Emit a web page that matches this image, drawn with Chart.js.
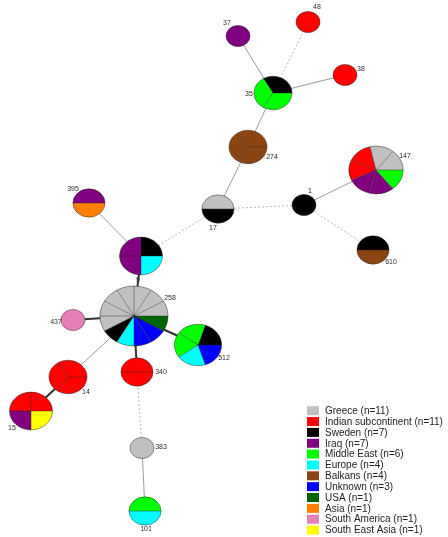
<!DOCTYPE html>
<html>
<head>
<meta charset="utf-8">
<script src="https://cdn.jsdelivr.net/npm/chart.js@4/dist/chart.umd.min.js"></script>
<style>
  html, body { margin: 0; padding: 0; background: #fff; }
  canvas { display: block; }
</style>
</head>
<body>
<canvas id="mst" width="448" height="537"></canvas>
<script>
// Origin groups (legend order = slice order inside each node)
const categories = ['Greece', 'Indian subcontinent', 'Sweden', 'Iraq', 'Middle East', 'Europe',
  'Balkans', 'Unknown', 'USA', 'Asia', 'South America', 'South East Asia'];

// Sequence types (nodes) and their layout coordinates
const nodeIds = ['48', '37', '38', '35', '274', '17', '1', '147', '610', '395',
  '9', '258', '437', '512', '340', '14', '15', '383', '101'];
const nodeX = [308, 238, 345, 273, 248, 218, 304, 376, 373, 89, 141, 134, 73, 198, 137, 68, 31, 142, 145];
const nodeY = [22, 36, 75, 93, 147, 209, 205, 170, 250, 203, 256, 316, 320, 345, 372, 377, 411, 448, 511];

// Isolates per node, one column per origin group
const nodeCounts = [
  [0, 1, 0, 0, 0, 0, 0, 0, 0, 0, 0, 0], // 48
  [0, 0, 0, 1, 0, 0, 0, 0, 0, 0, 0, 0], // 37
  [0, 1, 0, 0, 0, 0, 0, 0, 0, 0, 0, 0], // 38
  [0, 0, 1, 0, 2, 0, 0, 0, 0, 0, 0, 0], // 35
  [0, 0, 0, 0, 0, 0, 3, 0, 0, 0, 0, 0], // 274
  [1, 0, 1, 0, 0, 0, 0, 0, 0, 0, 0, 0], // 17
  [0, 0, 1, 0, 0, 0, 0, 0, 0, 0, 0, 0], // 1
  [2, 2, 0, 2, 1, 0, 0, 0, 0, 0, 0, 0], // 147
  [0, 0, 1, 0, 0, 0, 1, 0, 0, 0, 0, 0], // 610
  [0, 0, 0, 1, 0, 0, 0, 0, 0, 1, 0, 0], // 395
  [0, 0, 1, 2, 0, 1, 0, 0, 0, 0, 0, 0], // 9
  [7, 0, 1, 0, 0, 1, 0, 2, 1, 0, 0, 0], // 258
  [0, 0, 0, 0, 0, 0, 0, 0, 0, 0, 1, 0], // 437
  [0, 0, 1, 0, 2, 1, 0, 1, 0, 0, 0, 0], // 512
  [0, 2, 0, 0, 0, 0, 0, 0, 0, 0, 0, 0], // 340
  [0, 3, 0, 0, 0, 0, 0, 0, 0, 0, 0, 0], // 14
  [0, 2, 0, 1, 0, 0, 0, 0, 0, 0, 0, 1], // 15
  [1, 0, 0, 0, 0, 0, 0, 0, 0, 0, 0, 0], // 383
  [0, 0, 0, 0, 1, 1, 0, 0, 0, 0, 0, 0]  // 101
];

// Minimum spanning tree links: [from, to, distance class]
const edgeFrom = ['35', '35', '35', '35', '274', '17', '1', '1', '17', '9', '9', '258', '258', '258', '258', '14', '340', '383'];
const edgeTo   = ['37', '48', '38', '274', '17', '1', '147', '610', '9', '395', '258', '437', '14', '512', '340', '15', '383', '101'];
const edgeDist = [2, 3, 2, 2, 2, 3, 2, 3, 3, 2, 1, 1, 2, 1, 1, 1, 3, 2];

// ---- presentation ----
const groupColours = ['#c0c0c0', '#ff0000', '#000000', '#800080', '#00ff00', '#00ffff',
  '#8b4513', '#0000ff', '#006400', '#ff7f00', '#e67fb9', '#ffff00'];

const edgeStyles = {
  1: { color: '#333333', width: 2, dash: [] },
  2: { color: '#9a9a9a', width: 1, dash: [] },
  3: { color: '#b8b8b8', width: 1, dash: [2, 2] }
};

// label placement relative to node centre (pixels)
const labelOffsets = {
  '48': [9, -15], '37': [-11, -13], '38': [16, -6], '35': [-24, 1], '274': [24, 10],
  '17': [-5, 19], '1': [6, -14], '147': [29, -14], '610': [18, 12], '395': [-16, -14],
  '9': [-3, 24], '258': [36, -18], '437': [-17, 2], '512': [26, 13], '340': [24, 0],
  '14': [18, 15], '15': [-19, 17], '383': [19, -1], '101': [1, 18]
};

const idx = id => nodeIds.indexOf(id);
const nodeSize = counts => counts.reduce((a, b) => a + b, 0);

const edgeDatasets = edgeFrom.map((f, i) => {
  const a = idx(f), b = idx(edgeTo[i]);
  const st = edgeStyles[edgeDist[i]];
  return {
    data: [{ x: nodeX[a], y: nodeY[a] }, { x: nodeX[b], y: nodeY[b] }],
    showLine: true,
    borderColor: st.color,
    borderWidth: st.width,
    borderDash: st.dash,
    pointRadius: 0,
    pointHoverRadius: 0,
    fill: false
  };
});

const piePlugin = {
  id: 'pieNodes',
  afterDatasetsDraw(chart) {
    const ctx = chart.ctx;
    const xs = chart.scales.x, ys = chart.scales.y;
    nodeIds.forEach((id, i) => {
      const counts = nodeCounts[i];
      const n = nodeSize(counts);
      const r = 12 * Math.pow(n, 0.42);
      const cx = xs.getPixelForValue(nodeX[i]);
      const cy = ys.getPixelForValue(nodeY[i]);
      const rx = Math.abs(xs.getPixelForValue(nodeX[i] + r) - cx);
      const ry = Math.abs(ys.getPixelForValue(nodeY[i] + r * 0.88) - cy);

      // slices: one per isolate, counter-clockwise from 3 o'clock
      const slices = [];
      counts.forEach((c, g) => { for (let k = 0; k < c; k++) slices.push(g); });
      const step = 2 * Math.PI / n;
      ctx.save();
      if (n === 1) {
        ctx.beginPath();
        ctx.ellipse(cx, cy, rx, ry, 0, 0, 2 * Math.PI);
        ctx.fillStyle = groupColours[slices[0]];
        ctx.fill();
      } else {
        slices.forEach((g, s) => {
          ctx.beginPath();
          ctx.moveTo(cx, cy);
          ctx.ellipse(cx, cy, rx, ry, 0, -s * step, -(s + 1) * step, true);
          ctx.closePath();
          ctx.fillStyle = groupColours[g];
          ctx.fill();
        });
        slices.forEach((g, s) => {
          const a = -s * step;
          ctx.beginPath();
          ctx.moveTo(cx, cy);
          ctx.lineTo(cx + rx * Math.cos(a), cy + ry * Math.sin(a));
          ctx.strokeStyle = 'rgba(40,40,40,0.55)';
          ctx.lineWidth = 0.8;
          ctx.stroke();
        });
      }
      ctx.beginPath();
      ctx.ellipse(cx, cy, rx, ry, 0, 0, 2 * Math.PI);
      ctx.strokeStyle = 'rgba(40,40,40,0.6)';
      ctx.lineWidth = 0.8;
      ctx.stroke();

      // node label
      const off = labelOffsets[id];
      ctx.fillStyle = '#2a2a2a';
      ctx.font = '7px "Liberation Sans", Arial, sans-serif';
      ctx.textAlign = 'center';
      ctx.textBaseline = 'middle';
      ctx.fillText(id, cx + off[0], cy + off[1]);
      ctx.restore();
    });
  }
};

const legendPlugin = {
  id: 'originLegend',
  afterDraw(chart) {
    const ctx = chart.ctx;
    const totals = categories.map((_, g) => nodeCounts.reduce((s, row) => s + row[g], 0));
    const x0 = 307, y0 = 410.7, rowH = 10.85;
    ctx.save();
    ctx.font = '10px "Liberation Sans", Arial, sans-serif';
    ctx.textAlign = 'left';
    ctx.textBaseline = 'middle';
    categories.forEach((name, g) => {
      const y = y0 + g * rowH;
      ctx.fillStyle = groupColours[g];
      ctx.fillRect(x0, y - 4.5, 12, 9);
      ctx.fillStyle = '#222';
      ctx.fillText(name + ' (n=' + totals[g] + ')', x0 + 18, y + 0.5);
    });
    ctx.restore();
  }
};

new Chart(document.getElementById('mst'), {
  type: 'scatter',
  data: { datasets: edgeDatasets },
  options: {
    responsive: false,
    animation: false,
    events: [],
    layout: { padding: 0 },
    scales: {
      x: { type: 'linear', min: 0, max: 448, display: false },
      y: { type: 'linear', min: 0, max: 537, reverse: true, display: false }
    },
    plugins: {
      legend: { display: false },
      tooltip: { enabled: false }
    }
  },
  plugins: [piePlugin, legendPlugin]
});
</script>
</body>
</html>
